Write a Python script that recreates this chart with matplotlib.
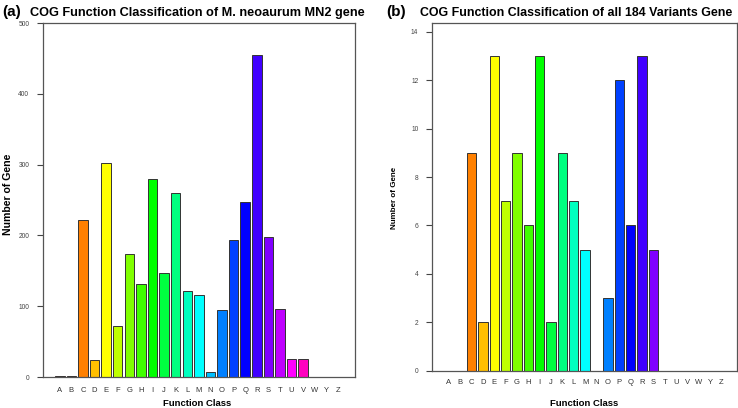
import matplotlib
matplotlib.use("Agg")
import matplotlib.pyplot as plt
import colorsys

plt.rcParams['font.family'] = ['Liberation Sans', 'DejaVu Sans']

categories = ["A", "B", "C", "D", "E", "F", "G", "H", "I", "J", "K", "L", "M",
              "N", "O", "P", "Q", "R", "S", "T", "U", "V", "W", "Y", "Z"]
genome_counts = [1, 1, 222, 24, 302, 72, 174, 132, 280, 147, 260, 121, 116,
                 7, 95, 194, 247, 455, 198, 96, 26, 25, 0, 0, 0]
variant_counts = [0, 0, 9, 2, 13, 7, 9, 6, 13, 2, 9, 7, 5,
                  0, 3, 12, 6, 13, 5, 0, 0, 0, 0, 0, 0]
title_a = "COG Function Classification of M. neoaurum MN2 gene"
title_b = "COG Function Classification of all 184 Variants Gene"
yticks_a = [0, 100, 200, 300, 400, 500]
yticks_b = [0, 2, 4, 6, 8, 10, 12, 14]

colors = [colorsys.hsv_to_rgb((i / 24.0) % 1.0, 1, 1) for i in range(len(categories))]

W, H = 738, 408
fig = plt.figure(figsize=(W / 100, H / 100), dpi=100)


def box(l, r, t, b):
    return [l / W, (H - b) / H, (r - l) / W, (b - t) / H]


def fx(px):
    return px / W


def fy(py):
    return 1 - py / H


def panel(rect, values, ylim, yticks, xlab_pad, xlim):
    ax = fig.add_axes(rect)
    x = list(range(len(categories)))
    ax.bar(x, values, width=0.82, color=colors, edgecolor="#333333", linewidth=0.7)
    ax.set_xlim(*xlim)
    ax.set_ylim(*ylim)
    ax.set_xticks(x)
    ax.set_xticklabels(categories, fontsize=5.5, color="#333333")
    ax.tick_params(axis="x", length=0, pad=xlab_pad)
    ax.set_yticks(yticks)
    ax.set_yticklabels([str(v) for v in yticks], fontsize=4.8, color="#444444")
    ax.tick_params(axis="y", length=4.5, width=0.8, color="#444444", pad=5)
    for s in ax.spines.values():
        s.set_color("#555555")
        s.set_linewidth(0.9)
    return ax


ax1 = panel(box(42.5, 355, 23, 377), genome_counts, (0, 500), yticks_a, 7, (-1.49, 25.47))
ax2 = panel(box(431.5, 736.5, 22.7, 370.7), variant_counts, (0, 14.38), yticks_b, 6, (-1.53, 25.33))

# panel tags and titles
fig.text(fx(2), fy(12), "(a)", fontsize=11, fontweight="bold", va="center", ha="left")
fig.text(fx(30), fy(13), title_a, fontsize=9.2, fontweight="bold", va="center", ha="left")
fig.text(fx(386), fy(12), "(b)", fontsize=11, fontweight="bold", va="center", ha="left")
fig.text(fx(420), fy(13), title_b, fontsize=8.9, fontweight="bold", va="center", ha="left")

# axis labels
fig.text(fx(197), fy(403), "Function Class", fontsize=6.8, fontweight="bold", ha="center", va="center")
fig.text(fx(584), fy(404), "Function Class", fontsize=6.8, fontweight="bold", ha="center", va="center")
fig.text(fx(8), fy(194), "Number of Gene", fontsize=7.6, fontweight="bold", rotation=90,
         ha="center", va="center")
fig.text(fx(395), fy(198), "Number of Gene", fontsize=5.8, fontweight="bold", rotation=90,
         ha="center", va="center")

fig.savefig("out.png", dpi=100)
